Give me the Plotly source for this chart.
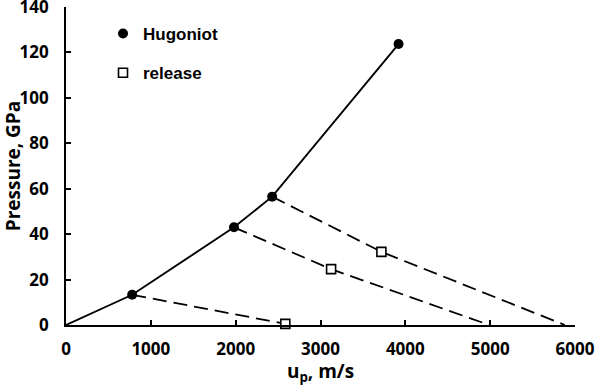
import plotly.graph_objects as go

# Hugoniot points (particle velocity m/s, pressure GPa)
hug_u = [0, 780, 1980, 2430, 3920]
hug_p = [0, 13.3, 43.0, 56.5, 123.7]

# release measurement points
rel_u = [2585, 3125, 3718]
rel_p = [0.5, 24.6, 32.2]

# release paths (start on Hugoniot, through release point, to zero pressure)
path1_u = [780, 2585]
path1_p = [13.3, 0.5]
path2_u = [1980, 3125, 4990]
path2_p = [43.0, 24.6, 0]
path3_u = [2430, 3718, 5880]
path3_p = [56.5, 32.2, 0]

x_ticks = [0, 1000, 2000, 3000, 4000, 5000, 6000]
y_ticks = [0, 20, 40, 60, 80, 100, 120, 140]

FONT = "Open Sans"
LEGFONT = "Liberation Sans"
fig = go.Figure()

for pu, pp in [(path1_u, path1_p), (path2_u, path2_p), (path3_u, path3_p)]:
    fig.add_trace(go.Scatter(x=pu, y=pp, mode="lines",
                             line=dict(color="black", width=1.8, dash="14px,7px"),
                             showlegend=False, hoverinfo="skip", cliponaxis=False))

fig.add_trace(go.Scatter(x=hug_u, y=hug_p, mode="lines",
                         line=dict(color="black", width=1.9),
                         showlegend=False, hoverinfo="skip"))

fig.add_trace(go.Scatter(x=hug_u[1:], y=hug_p[1:], mode="markers", name="Hugoniot",
                         marker=dict(symbol="circle", size=10, color="black"),
                         legend="legend"))

fig.add_trace(go.Scatter(x=rel_u, y=rel_p, mode="markers", name="release",
                         marker=dict(symbol="square", size=9, color="white",
                                     line=dict(color="black", width=1.6)),
                         legend="legend2", cliponaxis=False))

tickfont = dict(family=FONT, size=17, color="black", weight="bold")
legfont = dict(family=LEGFONT, size=17, color="black", weight="bold")
fig.update_layout(
    width=597, height=386,
    margin=dict(l=66, r=22, t=7, b=61),
    paper_bgcolor="white", plot_bgcolor="white",
    font=dict(family=FONT, color="black"),
    legend=dict(x=0.0727, y=0.915, xanchor="left", yanchor="middle",
                font=legfont, bgcolor="rgba(0,0,0,0)", itemwidth=30),
    legend2=dict(x=0.0727, y=0.792, xanchor="left", yanchor="middle",
                 font=legfont, bgcolor="rgba(0,0,0,0)", itemwidth=30),
    xaxis=dict(range=[0, 6000], tickvals=x_ticks, ticktext=[str(v) for v in x_ticks],
               showgrid=False, zeroline=False, showline=True, linecolor="black",
               linewidth=1.8, ticks="inside", ticklen=5, tickwidth=1.5, tickcolor="black",
               tickfont=tickfont, ticklabelstandoff=8, automargin=False,
               ticklabeloverflow="allow",
               title=dict(text="u<sub>p</sub>, m/s", standoff=6,
                          font=dict(family=FONT, size=19, color="black", weight="bold"))),
    yaxis=dict(range=[0, 140], tickvals=y_ticks, ticktext=[str(v) for v in y_ticks],
               showgrid=False, zeroline=False, showline=True, linecolor="black",
               linewidth=1.8, ticks="inside", ticklen=5, tickwidth=1.5, tickcolor="black",
               tickfont=tickfont, ticklabelstandoff=12, automargin=False,
               ticklabeloverflow="allow",
               title=dict(text="Pressure, GPa", standoff=13,
                          font=dict(family=FONT, size=19, color="black", weight="bold"))),
)

fig.write_html("out.html", config={"displayModeBar": False},
               post_script="document.body.style.margin='0';document.body.style.overflow='hidden';")
